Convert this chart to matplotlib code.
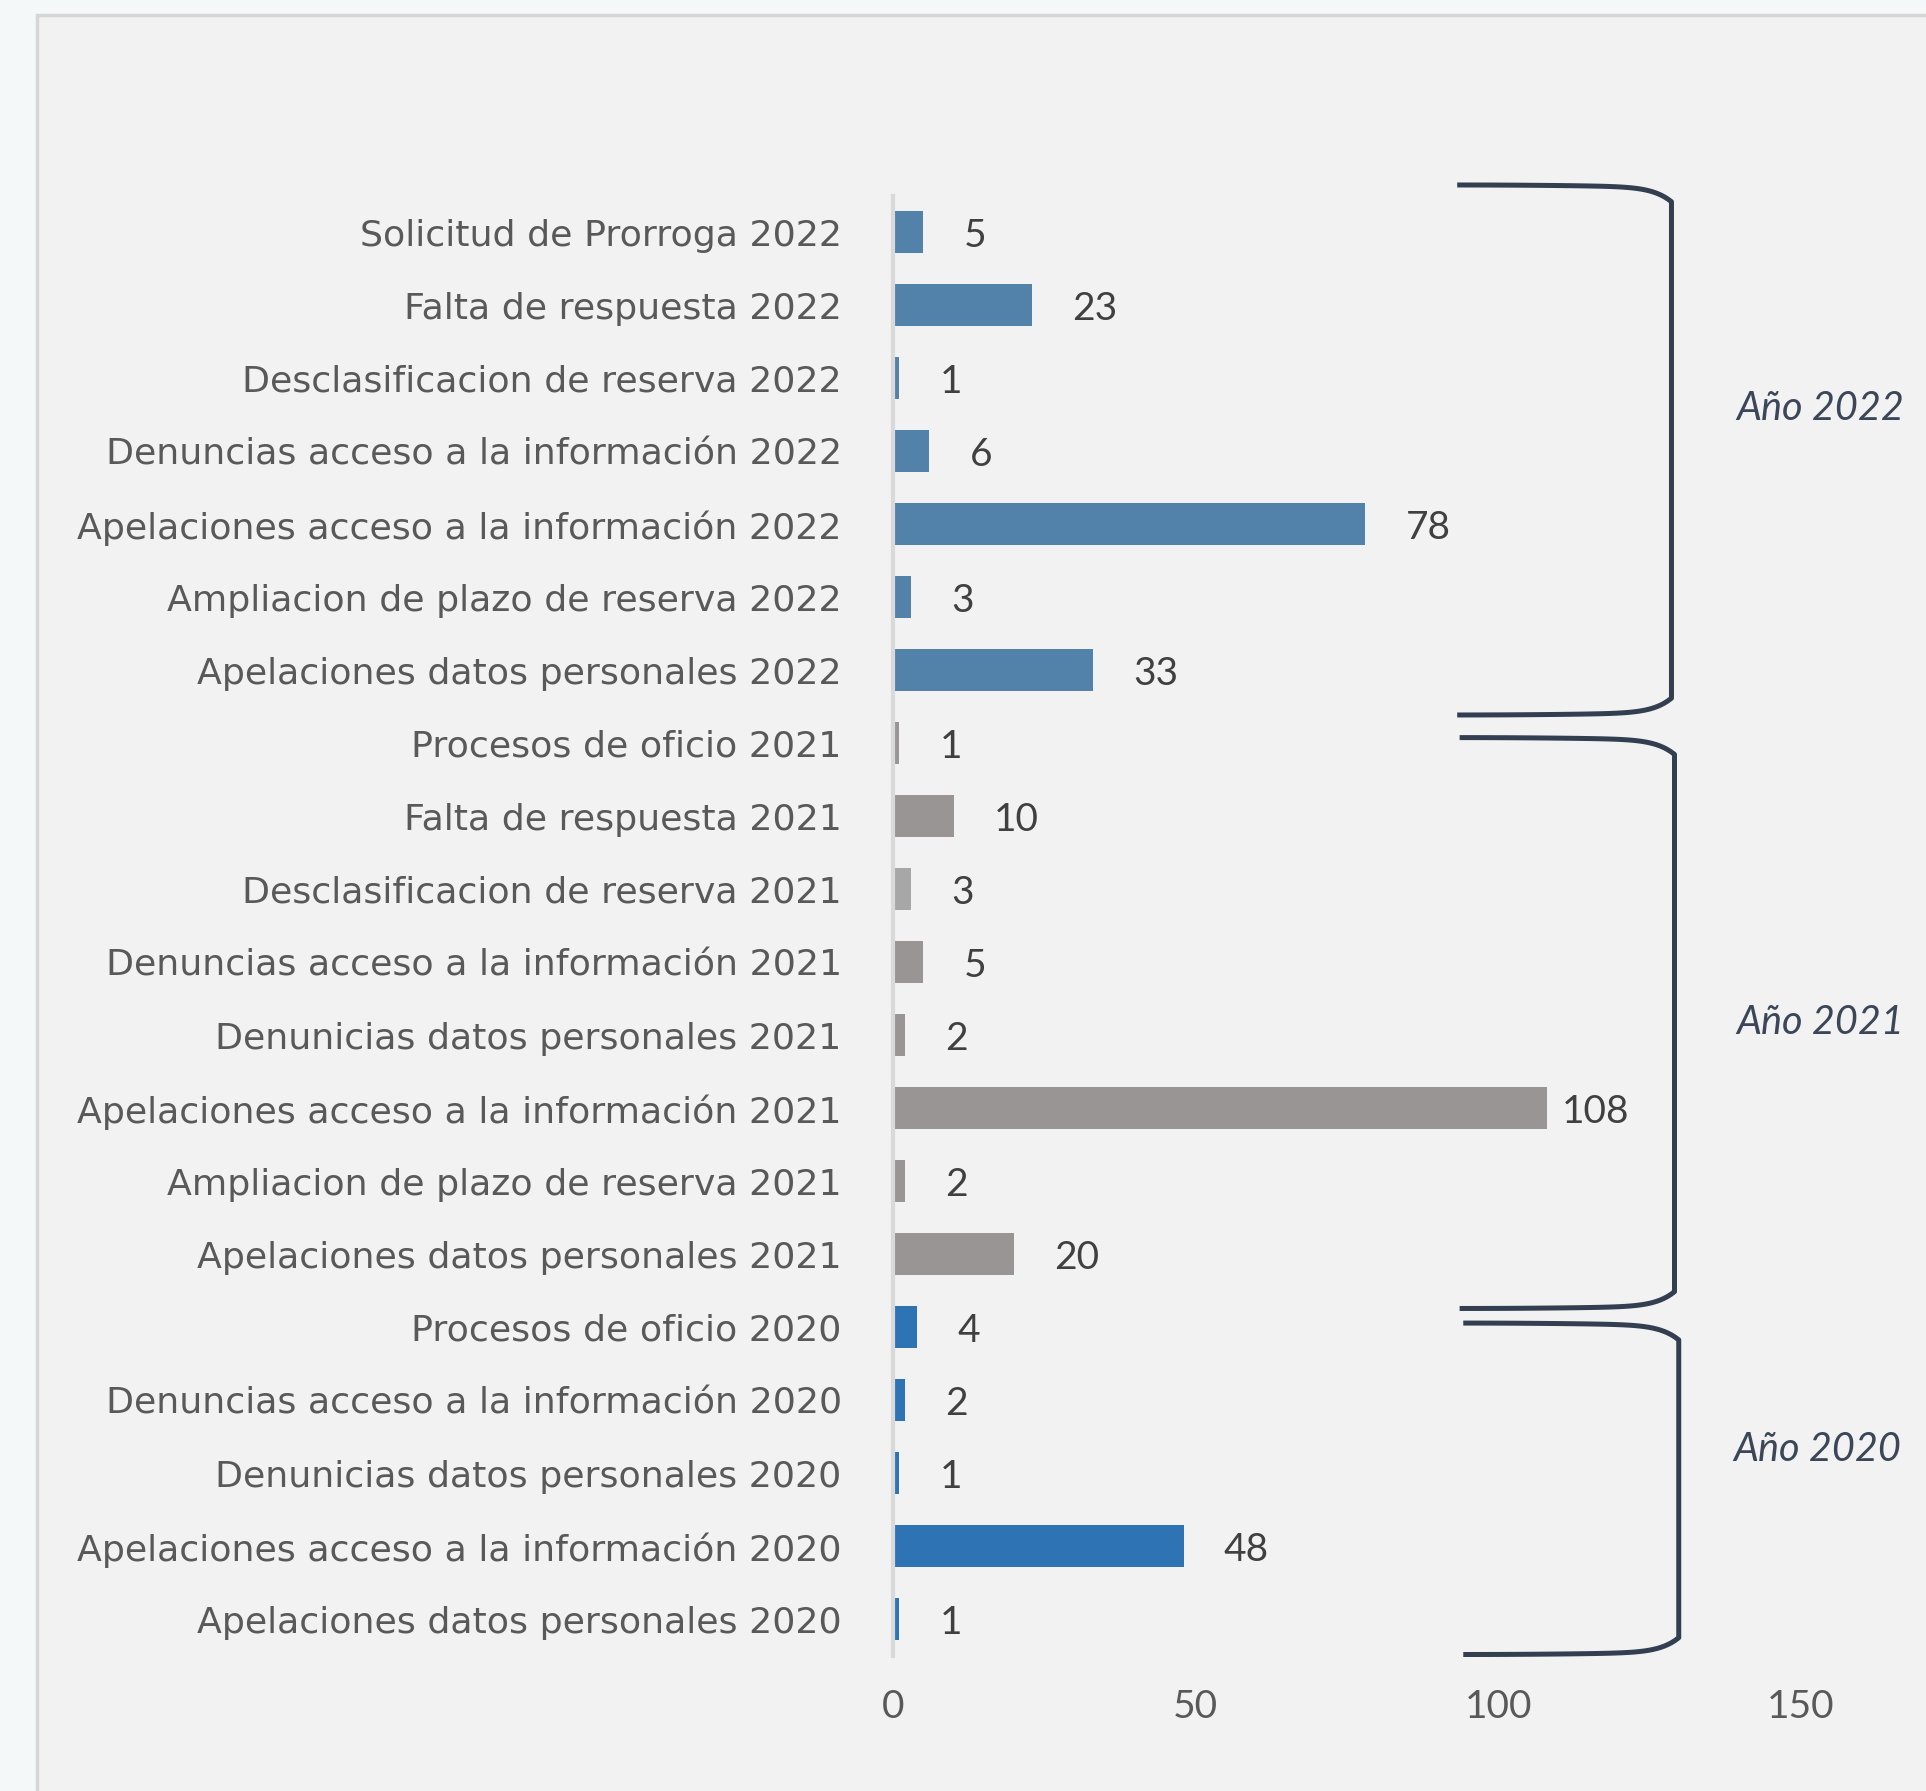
import numpy as np
import matplotlib
matplotlib.use("Agg")
import matplotlib.pyplot as plt
from matplotlib.patches import Rectangle

plt.rcParams['font.family'] = ['Lato', 'DejaVu Sans']

# data, top to bottom as in the chart
categories = [
    "Solicitud de Prorroga 2022",
    "Falta de respuesta 2022",
    "Desclasificacion de reserva 2022",
    "Denuncias acceso a la información 2022",
    "Apelaciones acceso a la información 2022",
    "Ampliacion de plazo de reserva 2022",
    "Apelaciones datos personales 2022",
    "Procesos de oficio 2021",
    "Falta de respuesta 2021",
    "Desclasificacion de reserva 2021",
    "Denuncias acceso a la información 2021",
    "Denunicias datos personales 2021",
    "Apelaciones acceso a la información 2021",
    "Ampliacion de plazo de reserva 2021",
    "Apelaciones datos personales 2021",
    "Procesos de oficio 2020",
    "Denuncias acceso a la información 2020",
    "Denunicias datos personales 2020",
    "Apelaciones acceso a la información 2020",
    "Apelaciones datos personales 2020",
]
values = [5, 23, 1, 6, 78, 3, 33, 1, 10, 3, 5, 2, 108, 2, 20, 4, 2, 1, 48, 1]
years = [2022] * 7 + [2021] * 8 + [2020] * 5
group_labels = ["Año 2022", "Año 2021", "Año 2020"]
xticks = [0, 50, 100, 150]

# styles
year_colors = {2022: "#5282a9", 2021: "#989594", 2020: "#2e74b5"}
bar_colors = [year_colors[y] for y in years]
bar_colors[categories.index("Desclasificacion de reserva 2021")] = "#a8a7a7"

# brace spans (y in row units, x in value units) and year label anchors
braces = [(-0.65, 6.61, 93.2, 128.6), (6.92, 14.74, 93.6, 129.1), (14.94, 19.48, 94.2, 129.8)]
label_pos = [(139.3, 2.36), (139.3, 10.78), (138.8, 16.62)]

fig = plt.figure(figsize=(19.26, 17.91), dpi=100, facecolor="#f5f8f9")
panel = Rectangle((0.0192, -0.05), 1.1, 0.9916 + 0.05, transform=fig.transFigure,
                  facecolor="#f2f2f2", edgecolor="#d6d6d6", linewidth=2.5, zorder=-5)
fig.patches.append(panel)

ax = fig.add_axes([0.4637, 0.0754, 0.9351 - 0.4637, 0.8906 - 0.0754])
ax.set_facecolor("none")

y = np.arange(len(values))
ax.barh(y, values, height=0.575, color=bar_colors, zorder=2)
ax.set_xlim(0, 150)
ax.set_ylim(len(values) - 0.5, -0.5)

for yi, v in zip(y, values):
    off = 11 if v == max(values) else 29
    ax.annotate(str(v), (v, yi), xytext=(off, 0), textcoords="offset points",
                ha="left", va="center_baseline", fontsize=28, color="#404040")

ax.set_yticks(y)
ax.set_yticklabels(categories, fontsize=26.2, color="#595959", family=["DejaVu Sans"],
                   va="center_baseline")
ax.set_xticks(xticks)
ax.set_xticklabels([str(t) for t in xticks], fontsize=28, color="#595959")
ax.tick_params(axis="both", length=0)
ax.tick_params(axis="y", pad=37)
ax.tick_params(axis="x", pad=24)

for s in ["top", "right", "bottom"]:
    ax.spines[s].set_visible(False)
ax.spines["left"].set_color("#d9d9d9")
ax.spines["left"].set_linewidth(3)

# year braces
t = np.linspace(0, 1, 60)
d = 0.23
for (top, bot, xl, xv), lab, (lx, ly) in zip(braces, group_labels, label_pos):
    dip = d * (0.15 * t ** 2 + 0.85 * t ** 12)
    xs = np.concatenate([xl + (xv - xl) * t, [xv, xv], xl + (xv - xl) * t[::-1]])
    ys = np.concatenate([top + dip, [top + d, bot - d], bot - dip[::-1]])
    ax.plot(xs, ys, color="#333f50", linewidth=3.6, clip_on=False,
            solid_capstyle="butt", solid_joinstyle="round", zorder=3)
    ax.text(lx, ly, lab, fontsize=28.5, style="italic", color="#3b4658",
            ha="left", va="center_baseline", clip_on=False)

fig.savefig("out.png", dpi=100, facecolor=fig.get_facecolor())
